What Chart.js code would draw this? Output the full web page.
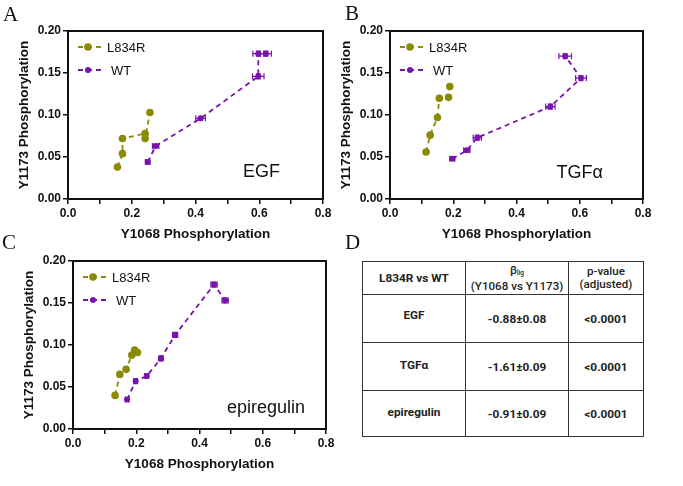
<!DOCTYPE html>
<html><head><meta charset="utf-8">
<script src="https://cdn.jsdelivr.net/npm/chart.js@4.4.1/dist/chart.umd.min.js"></script>
<style>
html,body{margin:0;padding:0;background:#fff}
body{width:683px;height:486px;position:relative;overflow:hidden;font-family:"Liberation Sans",Arial,sans-serif}
canvas{position:absolute}
.lbl{position:absolute;font-family:"Liberation Serif","Times New Roman",serif;font-size:21px;color:#111;line-height:1}
#tbl{position:absolute;left:362px;top:261px;border-collapse:collapse;font-family:Roboto,"Noto Sans",sans-serif;color:#222;font-size:11.8px;table-layout:fixed}
#tbl td{border:1.5px solid #333;text-align:center;vertical-align:middle;padding:0;font-weight:700}
#tbl td.hm{font-weight:500;font-size:11.6px;line-height:13px}
#tbl sub{font-size:6.5px;vertical-align:-1px}
</style></head><body>
<canvas id="cA" width="340" height="246" style="left:0px;top:0px;width:340px;height:246px"></canvas>
<canvas id="cB" width="340" height="246" style="left:322px;top:0px;width:340px;height:246px"></canvas>
<canvas id="cC" width="340" height="246" style="left:5px;top:230px;width:340px;height:246px"></canvas>
<div class="lbl" style="left:3px;top:4px">A</div>
<div class="lbl" style="left:345px;top:3px">B</div>
<div class="lbl" style="left:2px;top:232px">C</div>
<div class="lbl" style="left:345px;top:232px">D</div>
<table id="tbl"></table>
<script>
// ---- data ----
const seriesNames = ['L834R', 'WT'];
const xTickLabels = ['0.0', '0.2', '0.4', '0.6', '0.8'];
const yTickLabels = ['0.00', '0.05', '0.10', '0.15', '0.20'];
const xTitle = 'Y1068 Phosphorylation';
const yTitle = 'Y1173 Phosphorylation';

// EGF
const egfL834R_x = [0.155, 0.171, 0.171, 0.242, 0.242, 0.257];
const egfL834R_y = [0.038, 0.054, 0.072, 0.078, 0.072, 0.103];
const egfWT_x = [0.250, 0.275, 0.416, 0.597, 0.597, 0.621];
const egfWT_y = [0.044, 0.063, 0.096, 0.146, 0.173, 0.173];
const egfWT_xerr = [0.007, 0.010, 0.015, 0.018, 0.017, 0.017];
const egfWT_yerr = [0.002, 0.002, 0.002, 0.003, 0.003, 0.003];

// TGFα
const tgfL834R_x = [0.114, 0.127, 0.150, 0.156, 0.185, 0.189];
const tgfL834R_y = [0.056, 0.076, 0.097, 0.120, 0.121, 0.134];
const tgfWT_x = [0.197, 0.243, 0.276, 0.507, 0.604, 0.554];
const tgfWT_y = [0.048, 0.058, 0.073, 0.110, 0.144, 0.170];
const tgfWT_xerr = [0.008, 0.010, 0.013, 0.015, 0.017, 0.020];
const tgfWT_yerr = [0.002, 0.002, 0.003, 0.003, 0.003, 0.003];

// epiregulin
const epiL834R_x = [0.133, 0.148, 0.168, 0.186, 0.195, 0.204];
const epiL834R_y = [0.040, 0.065, 0.071, 0.088, 0.094, 0.091];
const epiWT_x = [0.171, 0.198, 0.233, 0.278, 0.323, 0.446, 0.481];
const epiWT_y = [0.035, 0.057, 0.063, 0.084, 0.112, 0.172, 0.153];
const epiWT_xerr = [0.005, 0.006, 0.006, 0.007, 0.008, 0.010, 0.010];
const epiWT_yerr = [0.002, 0.003, 0.002, 0.003, 0.003, 0.003, 0.003];

// table
const tblHeader = ['L834R vs WT', 'β<sub>lig</sub><br>(Y1068 vs Y1173)', 'p-value<br>(adjusted)'];
const tblLigands = ['EGF', 'TGFα', 'epiregulin'];
const tblBeta = ['-0.88±0.08', '-1.61±0.09', '-0.91±0.09'];
const tblP = ['<0.0001', '<0.0001', '<0.0001'];

// ---- styles ----
const OLIVE = '#8a8a06';
const PURPLE = '#7a12ae';
const INK = '#111';

function pts(xs, ys) { return xs.map((x, i) => ({x: x, y: ys[i]})); }

const framePlugin = {
  id: 'frame',
  afterDatasetsDraw(chart) {
    const {ctx, chartArea: a} = chart;
    ctx.save();
    ctx.strokeStyle = INK; ctx.lineWidth = 2;
    ctx.strokeRect(a.left, a.top, a.right - a.left, a.bottom - a.top);
    ctx.restore();
  }
};

const errPlugin = {
  id: 'errbars',
  afterDatasetsDraw(chart) {
    const {ctx, scales: {x, y}} = chart;
    ctx.save();
    chart.data.datasets.forEach(ds => {
      if (!ds.xErr) return;
      ctx.strokeStyle = ds.borderColor; ctx.lineWidth = 1.2; ctx.setLineDash([]);
      ds.data.forEach((p, i) => {
        const px = x.getPixelForValue(p.x), py = y.getPixelForValue(p.y);
        const x0 = x.getPixelForValue(p.x - ds.xErr[i]), x1 = x.getPixelForValue(p.x + ds.xErr[i]);
        const y0 = y.getPixelForValue(p.y - ds.yErr[i]), y1 = y.getPixelForValue(p.y + ds.yErr[i]);
        ctx.beginPath();
        ctx.moveTo(x0, py); ctx.lineTo(x1, py);
        ctx.moveTo(x0, py - 3); ctx.lineTo(x0, py + 3);
        ctx.moveTo(x1, py - 3); ctx.lineTo(x1, py + 3);
        ctx.moveTo(px, y0); ctx.lineTo(px, y1);
        ctx.moveTo(px - 2.5, y0); ctx.lineTo(px + 2.5, y0);
        ctx.moveTo(px - 2.5, y1); ctx.lineTo(px + 2.5, y1);
        ctx.stroke();
      });
    });
    ctx.restore();
  }
};

const legendPlugin = {
  id: 'inlegend',
  afterDraw(chart) {
    const {ctx, chartArea: a} = chart;
    ctx.save();
    chart.data.datasets.forEach((ds, i) => {
      const yy = a.top + 16 + i * 23;
      const x0 = a.left + 10;
      ctx.strokeStyle = ds.borderColor; ctx.lineWidth = ds.borderWidth;
      ctx.setLineDash(ds.borderDash);
      ctx.beginPath(); ctx.moveTo(x0, yy); ctx.lineTo(x0 + 23, yy); ctx.stroke();
      ctx.setLineDash([]);
      ctx.fillStyle = ds.backgroundColor;
      ctx.beginPath(); ctx.arc(x0 + 10, yy, ds.pointRadius, 0, Math.PI * 2); ctx.fill();
      ctx.fillStyle = INK;
      ctx.font = '13px "Liberation Sans", Arial, sans-serif';
      ctx.textBaseline = 'middle'; ctx.textAlign = 'left';
      ctx.fillText(ds.label, x0 + 29 + (i === 1 ? 4 : 0), yy + 1);
    });
    ctx.restore();
  }
};

const tagPlugin = {
  id: 'tag',
  afterDraw(chart, args, opts) {
    const {ctx, chartArea: a} = chart;
    ctx.save();
    ctx.fillStyle = INK;
    ctx.font = '18px "Liberation Sans", Arial, sans-serif';
    ctx.textAlign = 'right'; ctx.textBaseline = 'middle';
    ctx.fillText(opts.text, a.right - opts.dx, a.bottom - opts.dy);
    ctx.restore();
  }
};

function makeChart(id, lx, ly, wx, wy, wxe, wye, tag, dx, dy, padRight) {
  return new Chart(document.getElementById(id), {
    type: 'scatter',
    data: {
      datasets: [
        {label: seriesNames[0], data: pts(lx, ly), showLine: true, borderColor: OLIVE, backgroundColor: OLIVE,
         borderWidth: 1.8, borderDash: [5, 4], pointRadius: 3.8, pointBorderWidth: 0, pointHoverRadius: 3.8},
        {label: seriesNames[1], data: pts(wx, wy), showLine: true, borderColor: PURPLE, backgroundColor: PURPLE,
         borderWidth: 1.8, borderDash: [5, 4], pointRadius: 3, pointBorderWidth: 0, pointHoverRadius: 3,
         xErr: wxe, yErr: wye}
      ]
    },
    options: {
      responsive: false, animation: false, devicePixelRatio: 1,
      layout: {padding: {left: 12, top: 31, right: padRight, bottom: 0}},
      plugins: {legend: {display: false}, tooltip: {enabled: false}, tag: {text: tag, dx: dx, dy: dy}},
      scales: {
        x: {
          type: 'linear', min: 0, max: 0.8,
          afterFit(s) { s.height = 47; },
          ticks: {stepSize: 0.1, autoSkip: false, maxRotation: 0, padding: 2, color: INK,
                  font: {family: '"Liberation Sans", Arial, sans-serif', size: 12, weight: 'bold'},
                  callback: (v, i) => (i % 2 === 0 ? xTickLabels[i / 2] : '')},
          grid: {drawOnChartArea: false, drawTicks: true, tickLength: 5, color: INK, lineWidth: 1.5},
          border: {display: true, color: INK, width: 2},
          title: {display: true, text: xTitle, color: INK,
                  font: {family: '"Liberation Sans", Arial, sans-serif', size: 13.5, weight: 'bold'}}
        },
        y: {
          type: 'linear', min: 0, max: 0.2,
          afterFit(s) { s.width = 56; },
          ticks: {stepSize: 0.05, autoSkip: false, padding: 2, color: INK,
                  font: {family: '"Liberation Sans", Arial, sans-serif', size: 12, weight: 'bold'},
                  callback: (v, i) => yTickLabels[i]},
          grid: {drawOnChartArea: false, drawTicks: true, tickLength: 5, color: INK, lineWidth: 1.5},
          border: {display: true, color: INK, width: 2},
          title: {display: true, text: yTitle, color: INK,
                  font: {family: '"Liberation Sans", Arial, sans-serif', size: 13.5, weight: 'bold'}}
        }
      }
    },
    plugins: [errPlugin, framePlugin, legendPlugin, tagPlugin]
  });
}

makeChart('cA', egfL834R_x, egfL834R_y, egfWT_x, egfWT_y, egfWT_xerr, egfWT_yerr, 'EGF', 43, 27, 17);
makeChart('cB', tgfL834R_x, tgfL834R_y, tgfWT_x, tgfWT_y, tgfWT_xerr, tgfWT_yerr, 'TGFα', 40, 26, 19);
makeChart('cC', epiL834R_x, epiL834R_y, epiWT_x, epiWT_y, epiWT_xerr, epiWT_yerr, 'epiregulin', 21, 21, 19);

// table
(function () {
  const t = document.getElementById('tbl');
  const colW = [103, 103, 75];
  const rowH = [33, 48, 48, 46];
  let html = '<colgroup>' + colW.map(w => '<col style="width:' + w + 'px">').join('') + '</colgroup>';
  html += '<tr style="height:' + rowH[0] + 'px"><td>' + tblHeader[0] + '</td><td class="hm">' + tblHeader[1] +
          '</td><td class="hm">' + tblHeader[2] + '</td></tr>';
  tblLigands.forEach((lig, i) => {
    const esc = s => s.replace(/</g, '&lt;');
    html += '<tr style="height:' + rowH[i + 1] + 'px"><td style="padding-bottom:' + (i === 0 ? 8 : 3) + 'px">' + lig +
            '</td><td>' + tblBeta[i] + '</td><td>' + esc(tblP[i]) + '</td></tr>';
  });
  t.innerHTML = html;
})();
</script>
</body></html>
